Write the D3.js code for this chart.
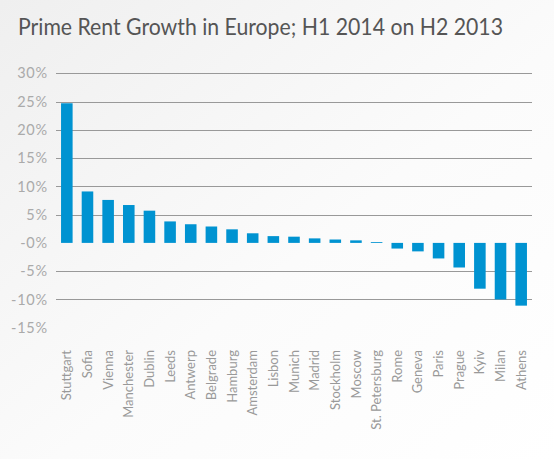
<!DOCTYPE html>
<html><head><meta charset="utf-8">
<script src="https://cdn.jsdelivr.net/npm/d3@7"></script>
<style>html,body{margin:0;padding:0;background:#fff;}svg{display:block;}</style>
</head><body>
<script>
const title = "Prime Rent Growth in Europe; H1 2014 on H2 2013";
const cities = ["Stuttgart","Sofia","Vienna","Manchester","Dublin","Leeds","Antwerp","Belgrade","Hamburg","Amsterdam","Lisbon","Munich","Madrid","Stockholm","Moscow","St. Petersburg","Rome","Geneva","Paris","Prague","Kyiv","Milan","Athens"];
const growth = [24.7,9.1,7.6,6.7,5.7,3.8,3.3,2.9,2.4,1.7,1.2,1.1,0.8,0.6,0.45,0.15,-1.0,-1.5,-2.75,-4.35,-8.1,-10.0,-11.1];
const yTicks = [30,25,20,15,10,5,0,-5,-10,-15];
const yTickLabels = ["30%","25%","20%","15%","10%","5%","-0%","-5%","-10%","-15%"];
const gridTicks = [30,25,20,15,10,5,-5,-10];

const W = 554, H = 459;
const svg = d3.select("body").append("svg").attr("width", W).attr("height", H);
const defs = svg.append("defs");
const grad = defs.append("linearGradient").attr("id","bg").attr("x1","0").attr("y1","0").attr("x2","1").attr("y2","1");
grad.append("stop").attr("offset","0").attr("stop-color","#efefef");
grad.append("stop").attr("offset","0.55").attr("stop-color","#fbfbfb");
grad.append("stop").attr("offset","1").attr("stop-color","#ffffff");
svg.append("rect").attr("width",W).attr("height",H).attr("fill","url(#bg)");

const x = d3.scaleBand().domain(cities).range([56.5, 531.5]).paddingInner(0.44).paddingOuter(0.22);
const y = d3.scaleLinear().domain([-15, 30]).range([327.7, 73.3]);

svg.append("text").attr("x", 18).attr("y", 35).text(title)
  .attr("textLength", 485).attr("lengthAdjust","spacingAndGlyphs")
  .attr("font-family","Lato, 'Open Sans', sans-serif").attr("font-size", 23).attr("fill","#555");

// grid
svg.append("g").selectAll("line").data(gridTicks).join("line")
  .attr("x1", 56).attr("x2", 532)
  .attr("y1", d => Math.round(y(d)) + 0.5).attr("y2", d => Math.round(y(d)) + 0.5)
  .attr("stroke", "#999").attr("stroke-width", 1.2);

// y axis labels
const yAxis = d3.axisLeft(y).tickValues(yTicks).tickFormat((d,i) => yTickLabels[i]).tickSize(0).tickPadding(0);
const ga = svg.append("g").attr("transform","translate(48,0)").call(yAxis);
ga.select(".domain").remove();
ga.selectAll("text").attr("font-family","Lato, 'Open Sans', sans-serif").attr("font-size",14.5)
  .attr("letter-spacing", 0.8).attr("fill","#aaa");

// bars
svg.append("g").selectAll("rect").data(cities).join("rect")
  .attr("x", d => x(d)).attr("width", x.bandwidth())
  .attr("y", (d,i) => y(Math.max(0, growth[i])))
  .attr("height", (d,i) => Math.abs(y(growth[i]) - y(0)))
  .attr("fill", "#0093d1");

// x labels
const xAxis = d3.axisBottom(x).tickSize(0).tickPadding(0);
const gx = svg.append("g").attr("transform","translate(0,350)").call(xAxis);
gx.select(".domain").remove();
gx.selectAll("text")
  .attr("transform","rotate(-90)")
  .attr("text-anchor","end").attr("dy","0.35em").attr("dx","0").attr("y",0).attr("x",0)
  .attr("font-family","Lato, 'Open Sans', sans-serif").attr("font-size",13).attr("fill","#999");
</script>
</body></html>
